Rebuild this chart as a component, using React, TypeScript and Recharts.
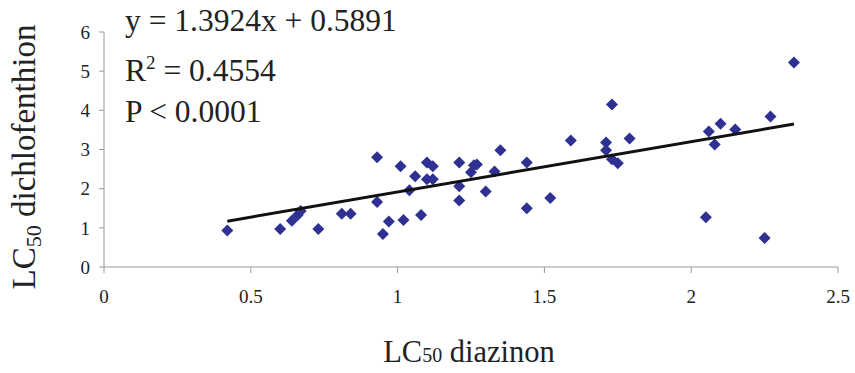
import { ScatterChart, Scatter, XAxis, YAxis, Label } from "recharts";

// LC50 values
const diazinon = [
  0.42, 0.6, 0.64, 0.66, 0.67, 0.73, 0.81, 0.84, 0.93, 0.93, 0.95, 0.97,
  1.01, 1.02, 1.04, 1.06, 1.08, 1.1, 1.12, 1.1, 1.12, 1.21, 1.21, 1.21,
  1.25, 1.26, 1.27, 1.3, 1.33, 1.35, 1.44, 1.44, 1.52, 1.59, 1.71, 1.71,
  1.73, 1.73, 1.75, 1.79, 2.05, 2.06, 2.08, 2.1, 2.15, 2.25, 2.27, 2.35,
];
const dichlofenthion = [
  0.93, 0.97, 1.18, 1.33, 1.43, 0.97, 1.36, 1.36, 1.66, 2.8, 0.84, 1.16,
  2.57, 1.2, 1.96, 2.32, 1.33, 2.67, 2.57, 2.24, 2.24, 2.67, 2.06, 1.7,
  2.42, 2.6, 2.62, 1.93, 2.44, 2.98, 2.67, 1.5, 1.76, 3.23, 3.18, 2.98,
  4.15, 2.75, 2.65, 3.28, 1.27, 3.46, 3.13, 3.66, 3.51, 0.74, 3.84, 5.22,
];
const trendX = [0.42, 2.35];
const trendY = [1.17, 3.65];
const xTicks = [0, 0.5, 1, 1.5, 2, 2.5];
const yTicks = [0, 1, 2, 3, 4, 5, 6];

const points = diazinon.map((x, i) => ({ x, y: dichlofenthion[i] }));
const trend = trendX.map((x, i) => ({ x, y: trendY[i] }));

const FONT = '"Liberation Serif", "Times New Roman", serif';
const DOT = "#2E3192";

function Diamond(props: any) {
  const { cx, cy } = props;
  const r = 6;
  return (
    <polygon
      points={`${cx},${cy - r} ${cx + r},${cy} ${cx},${cy + r} ${cx - r},${cy}`}
      fill={DOT}
    />
  );
}

export default function App() {
  const tickStyle = { fontFamily: FONT, fontSize: 19, fill: "#222" };
  const eq = { position: "absolute" as const, left: 125, fontFamily: FONT, fontSize: 31.5, lineHeight: "36px", color: "#222", whiteSpace: "nowrap" as const };
  return (
    <div style={{ position: "absolute", left: 0, top: 0, width: 855, height: 373, background: "#fff" }}>
      <ScatterChart width={855} height={373} margin={{ top: 32, right: 17, left: 0, bottom: 0 }}>
        <XAxis
          type="number"
          dataKey="x"
          domain={[0, 2.5]}
          ticks={xTicks}
          interval={0}
          height={106}
          stroke="#999"
          tickSize={6}
          tickMargin={17}
          tick={tickStyle}
        >
          <Label
            content={(p: any) => {
              const vb = p.viewBox;
              return (
                <text x={vb.x + vb.width / 2 - 2} y={362} textAnchor="middle"
                  fontFamily={FONT} fontSize={30.5} fill="#222">
                  LC<tspan fontSize={20}>50</tspan> diazinon
                </text>
              );
            }}
          />
        </XAxis>
        <YAxis
          type="number"
          dataKey="y"
          domain={[0, 6]}
          ticks={yTicks}
          interval={0}
          width={104}
          stroke="#999"
          tickSize={5}
          tickMargin={9}
          tick={tickStyle}
        >
          <Label
            content={() => (
              <text x={35} y={157} transform="rotate(-90 35 157)" textAnchor="middle"
                fontFamily={FONT} fontSize={33} fill="#222">
                LC<tspan fontSize={22} dy={6}>50</tspan>
                <tspan dy={-6}> dichlofenthion</tspan>
              </text>
            )}
          />
        </YAxis>
        <Scatter data={points} shape={<Diamond />} isAnimationActive={false} />
        <Scatter
          data={trend}
          line={{ stroke: "#111", strokeWidth: 3 }}
          shape={() => <g />}
          isAnimationActive={false}
        />
      </ScatterChart>
      <div style={{ ...eq, top: 3 }}>y = 1.3924x + 0.5891</div>
      <div style={{ ...eq, top: 53 }}>
        R<sup style={{ fontSize: 19, verticalAlign: "top", lineHeight: "20px" }}>2</sup> = 0.4554
      </div>
      <div style={{ ...eq, top: 94 }}>P &lt; 0.0001</div>
    </div>
  );
}
